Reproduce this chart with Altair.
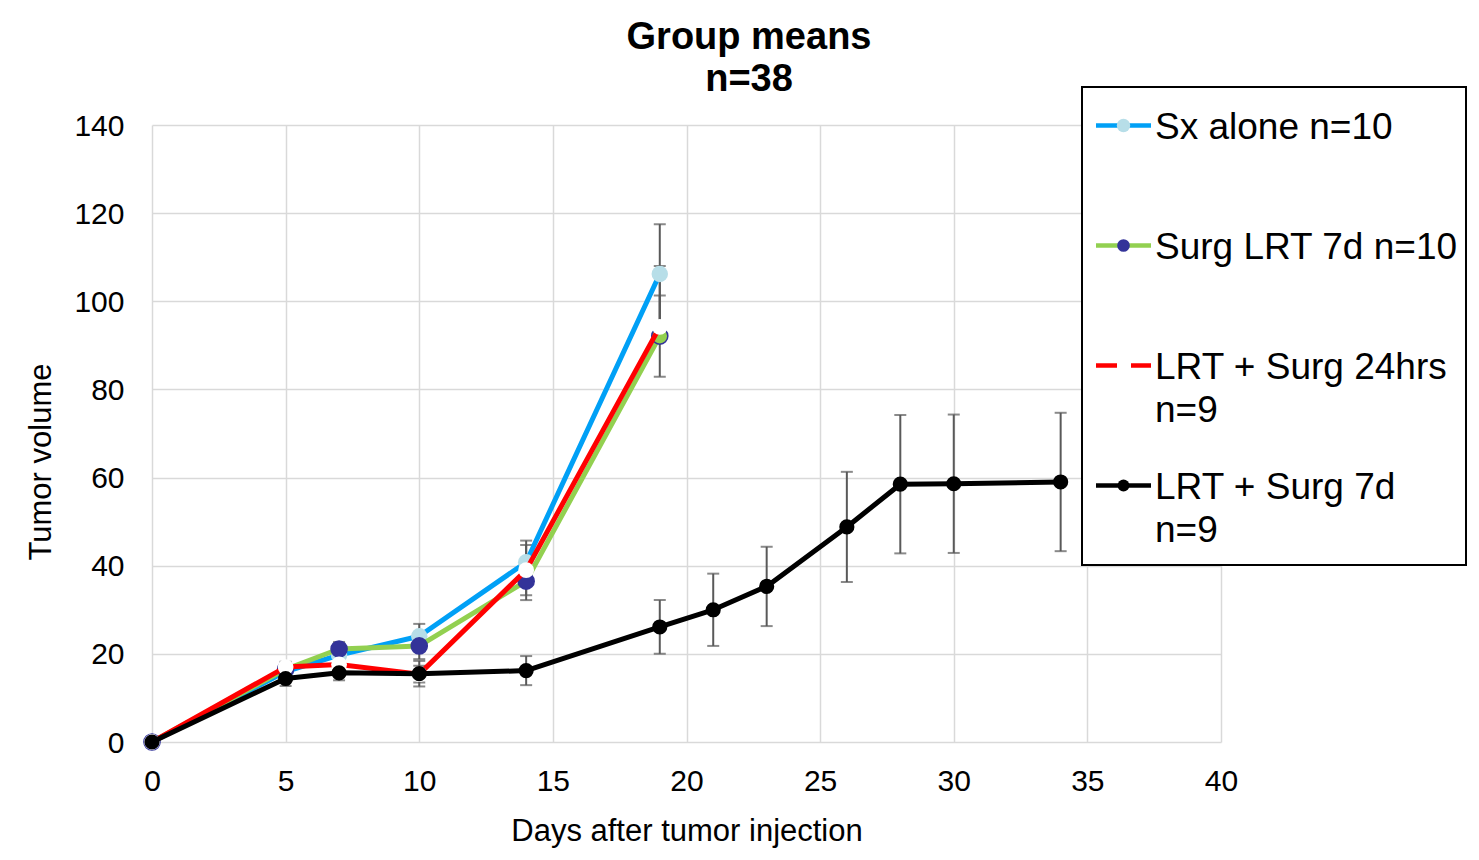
import altair as alt
import pandas as pd

# ---------------- data ----------------
days_main = [0, 5, 7, 10, 14, 19]
sx_alone = [0, 16.0, 19.7, 24.0, 40.8, 106.2]
sx_alone_err = [0, 1.5, 1.5, 2.8, 4.9, 11.3]
surg_lrt7 = [0, 16.5, 21.1, 21.8, 36.5, 92.1]
surg_lrt7_err = [0, 1.5, 1.6, 3.0, 4.3, 9.2]
lrt24 = [0, 17.0, 17.6, 15.4, 39.0, 94.2]
lrt24_err_up = [0, 1.2, 1.5, 1.9, 5.7, 13.8]
lrt24_err_down = [0, 1.2, 1.5, 1.9, 5.7, 0]
days_lrt7 = [0, 5, 7, 10, 14, 19, 21, 23, 26, 28, 30, 34]
lrt7 = [0, 14.4, 15.7, 15.5, 16.2, 26.1, 30.0, 35.3, 48.8, 58.5, 58.6, 59.0]
lrt7_err = [0, 1.7, 1.7, 2.9, 3.3, 6.1, 8.2, 9.0, 12.5, 15.7, 15.7, 15.7]

series_names = ["Sx alone n=10", "Surg LRT 7d n=10", "LRT + Surg 24hrs n=9", "LRT + Surg 7d n=9"]
legend_labels = ["Sx alone n=10", "Surg LRT 7d n=10", "LRT + Surg 24hrs\nn=9", "LRT + Surg 7d\nn=9"]
x_ticks = [0, 5, 10, 15, 20, 25, 30, 35, 40]
y_ticks = [0, 20, 40, 60, 80, 100, 120, 140]
title_text = "Group means\nn=38"

# ---------------- build table ----------------
rows = []


def add(name, days, means, up, down):
    for d, m, u, dn in zip(days, means, up, down):
        rows.append(dict(series=name, day=d, mean=m, hi=m + u, lo=m - dn))


add(series_names[0], days_main, sx_alone, sx_alone_err, sx_alone_err)
add(series_names[1], days_main, surg_lrt7, surg_lrt7_err, surg_lrt7_err)
add(series_names[2], days_main, lrt24, lrt24_err_up, lrt24_err_down)
add(series_names[3], days_lrt7, lrt7, lrt7_err, lrt7_err)
df = pd.DataFrame(rows)

FONT = "Liberation Sans"
styles = {
    series_names[0]: dict(line="#00A0F6", fill="#B7DEE8", size=270, lsize=180, marker=True),
    series_names[1]: dict(line="#92D050", fill="#333399", size=260, lsize=160, marker=True),
    series_names[2]: dict(line="#FF0000", fill="#FFFFFF", size=250, lsize=0, marker=False),
    series_names[3]: dict(line="#000000", fill="#000000", size=230, lsize=140, marker=True),
}

x_axis = alt.Axis(values=x_ticks, grid=True, domain=False, ticks=False,
                  labelFontSize=30, labelFont=FONT, labelColor="black", labelFlush=False,
                  labelBaseline="alphabetic", labelPadding=48,
                  titleFontSize=31, titleFont=FONT, titleFontWeight="normal",
                  titleColor="black", titleBaseline="alphabetic", titleY=98)
y_axis = alt.Axis(values=y_ticks, grid=True, domain=False, ticks=False,
                  labelFontSize=30, labelFont=FONT, labelColor="black", labelFlush=False,
                  labelBaseline="alphabetic", labelOffset=10, labelPadding=28,
                  titleFontSize=31, titleFont=FONT, titleFontWeight="normal",
                  titleColor="black", titleAngle=270, titleBaseline="alphabetic",
                  titleAlign="center", titleX=-102, titleY=336.5)
xscale = alt.Scale(domain=[0, 40], nice=False, zero=False)
yscale = alt.Scale(domain=[0, 140], nice=False)
XT = "Days after tumor injection"
YT = "Tumor volume"


def X():
    return alt.X("day:Q", scale=xscale, axis=x_axis, title=XT)


def Y(field):
    return alt.Y(field, scale=yscale, axis=y_axis, title=YT)


base = alt.Chart(df)
err_color = "#595959"
err_rule = base.mark_rule(color=err_color, strokeWidth=2).encode(
    x=X(), y=Y("lo:Q"), y2="hi:Q").transform_filter("datum.hi - datum.lo > 0")
cap_top = base.mark_tick(orient="horizontal", size=12, thickness=2, color=err_color).encode(
    x=X(), y=Y("hi:Q")).transform_filter("datum.hi > datum.mean")
cap_bot = base.mark_tick(orient="horizontal", size=12, thickness=2, color=err_color).encode(
    x=X(), y=Y("lo:Q")).transform_filter("datum.lo < datum.mean")

layers = [err_rule, cap_top, cap_bot]
for name in series_names:
    st = styles[name]
    sub = base.transform_filter(alt.datum.series == name)
    layers.append(sub.mark_line(color=st["line"], strokeWidth=5, strokeJoin="round").encode(
        x=X(), y=Y("mean:Q")))
    if name == series_names[1]:
        pts = sub.mark_point(filled=True, size=st["size"], opacity=1, stroke="#333399",
                             strokeWidth=1.5, shape="circle").encode(
            x=X(), y=Y("mean:Q"),
            fill=alt.condition("datum.day == 19", alt.value("#92D050"), alt.value(st["fill"])))
    else:
        pts = sub.mark_point(filled=True, size=st["size"], opacity=1, color=st["fill"],
                             shape="circle").encode(x=X(), y=Y("mean:Q"))
    layers.append(pts)

# ---------------- title and manual legend (box, symbols, labels) ----------------
one = pd.DataFrame({"k": [0]})
lg = alt.Chart(one)
layers.append(lg.mark_text(align="center", baseline="alphabetic", font=FONT, fontSize=38,
                           fontWeight="bold", color="black", lineBreak="\n", lineHeight=42).encode(
    x=alt.value(597), y=alt.value(-76), text=alt.value(title_text)))

LX0, LX1, LY0, LY1 = 930, 1314, -38, 440
layers.append(lg.mark_rect(fill="white", stroke="black", strokeWidth=2).encode(
    x=alt.value(LX0), x2=alt.value(LX1), y=alt.value(LY0), y2=alt.value(LY1)))
for i, name in enumerate(series_names):
    st = styles[name]
    yy = 0.5 + 120 * i
    rule_kw = dict(color=st["line"], strokeWidth=4.5)
    if name == series_names[2]:
        rule_kw["strokeDash"] = [21, 14]
    layers.append(lg.mark_rule(**rule_kw).encode(
        x=alt.value(944), x2=alt.value(999), y=alt.value(yy)))
    if st["marker"]:
        layers.append(lg.mark_point(filled=True, opacity=1, size=st["lsize"], color=st["fill"],
                                    shape="circle").encode(x=alt.value(971.5), y=alt.value(yy)))
    layers.append(lg.mark_text(align="left", baseline="alphabetic", font=FONT, fontSize=37,
                               color="black", lineBreak="\n", lineHeight=43).encode(
        x=alt.value(1003), y=alt.value(13.5 + 120 * i), text=alt.value(legend_labels[i])))

chart = alt.layer(*layers).properties(
    width=1069, height=617,
    padding={"left": 144, "top": 117, "right": 250, "bottom": 114},
    autosize=alt.AutoSizeParams(type="none"),
    background="white",
).configure_view(stroke=None).configure_axis(gridColor="#D9D9D9", gridWidth=1.5)

chart.save("out.html", embed_options={"renderer": "svg", "actions": False})
